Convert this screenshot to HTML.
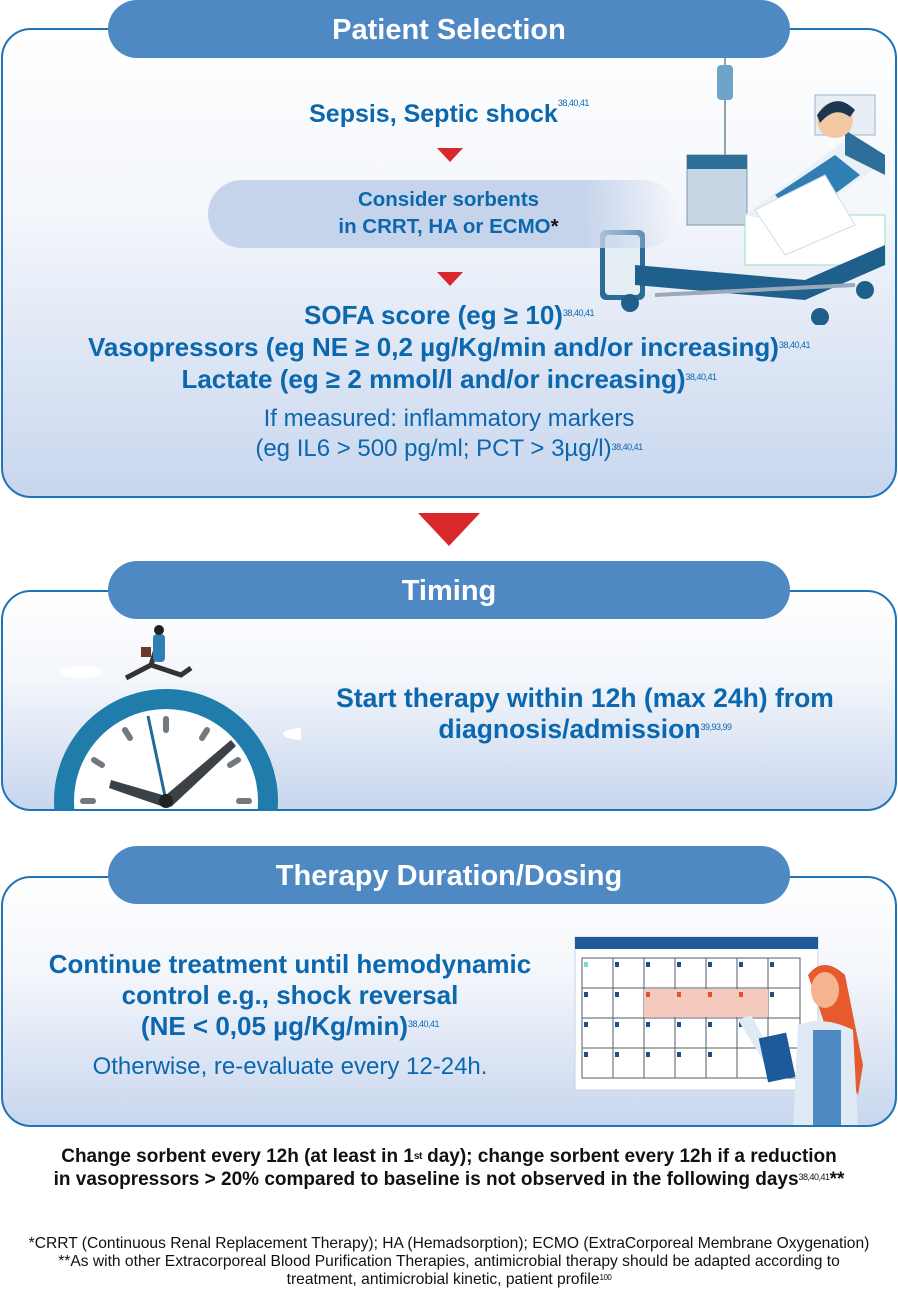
<!DOCTYPE html>
<html><head><meta charset="utf-8">
<style>
*{margin:0;padding:0;box-sizing:border-box}
body{width:898px;height:1292px;background:#fff;position:relative;overflow:hidden;font-family:"Liberation Sans",Arial,sans-serif}
.panel{position:absolute;left:1px;width:896px;border:2px solid #1f73b7;border-radius:30px;background:linear-gradient(#fff 0%,#f3f6fb 40%,#c8d6ee 100%);overflow:hidden}
.pill{position:absolute;left:108px;width:682px;height:58px;background:#4f89c4;border-radius:29px;color:#fff;font-weight:bold;font-size:29px;text-align:center;line-height:60px}
.t{position:absolute;white-space:nowrap;text-align:center;color:#0b67ae;font-weight:bold}
.t sup{font-size:9px;font-weight:normal;letter-spacing:-0.5px;vertical-align:top;position:relative;top:-2px}
.tri{position:absolute;width:0;height:0;border-left:13px solid transparent;border-right:13px solid transparent;border-top:14px solid #d8282c}
</style></head><body>

<!-- Panel 1 -->
<div class="panel" style="top:28px;height:470px">
  <svg style="position:absolute;left:592px;top:15px" width="300" height="280" viewBox="0 0 300 280">
    <rect x="220" y="50" width="60" height="40" fill="#e8eef5" stroke="#9fb4c9"/>
    <circle cx="235" cy="70" r="4" fill="#2c6a9a"/><circle cx="248" cy="70" r="4" fill="#2c6a9a"/>
    <line x1="130" y1="10" x2="130" y2="130" stroke="#8aa" stroke-width="2"/>
    <line x1="115" y1="10" x2="160" y2="10" stroke="#8aa" stroke-width="2"/>
    <rect x="122" y="20" width="16" height="35" rx="4" fill="#6fa3c9"/>
    <rect x="92" y="110" width="60" height="70" fill="#c7d6e4" stroke="#7f98ad"/>
    <rect x="92" y="110" width="60" height="14" fill="#2d6f99"/>
    <rect x="150" y="170" width="140" height="50" fill="#fff" stroke="#9db"/>
    <path d="M150 170 L250 95 L285 120 L200 180Z" fill="#eaf1f6"/>
    <path d="M250 85 L290 110 L290 130 L250 110Z" fill="#2d6f99"/>
    <circle cx="240" cy="75" r="18" fill="#f2c9a4"/>
    <path d="M222 70 Q240 45 260 65 L255 72 Q240 60 225 78Z" fill="#1d3550"/>
    <path d="M180 150 L240 110 L265 130 L205 175Z" fill="#2f7fb5"/>
    <path d="M160 165 L230 130 L260 180 L190 210Z" fill="#fff" stroke="#cfdde8"/>
    <rect x="5" y="185" width="45" height="70" rx="6" fill="#2a6b98"/>
    <rect x="10" y="190" width="35" height="60" rx="4" fill="#e6eef5"/>
    <path d="M40 220 L210 235 L290 200 L290 220 L210 255 L40 240Z" fill="#1f5f8c"/>
    <line x1="60" y1="250" x2="260" y2="240" stroke="#9ab" stroke-width="4"/>
    <circle cx="35" cy="258" r="9" fill="#1f5f8c"/><circle cx="225" cy="272" r="9" fill="#1f5f8c"/><circle cx="270" cy="245" r="9" fill="#1f5f8c"/>
  </svg>
  <div style="position:absolute;left:205px;top:150px;width:470px;height:68px;border-radius:34px;background:linear-gradient(90deg,#c6d4eb 80%,rgba(198,212,235,0))"></div>
</div>
<div class="pill" style="top:0">Patient Selection</div>

<div class="t" style="left:0;width:898px;top:100px;font-size:25px">Sepsis, Septic shock<sup>38,40,41</sup></div>
<div class="tri" style="left:437px;top:148px"></div>
<div class="t" style="left:236px;width:425px;top:186px;font-size:20.5px;line-height:27px">Consider sorbents<br>in CRRT, HA or ECMO<span style="color:#111">*</span></div>
<div class="tri" style="left:437px;top:272px"></div>
<div class="t" style="left:0;width:898px;top:299px;font-size:26px;line-height:32px">SOFA score (eg ≥ 10)<sup>38,40,41</sup><br>Vasopressors (eg NE ≥ 0,2 µg/Kg/min and/or increasing)<sup>38,40,41</sup><br>Lactate (eg ≥ 2 mmol/l and/or increasing)<sup>38,40,41</sup></div>
<div class="t" style="left:0;width:898px;top:404px;font-size:24px;line-height:30px;font-weight:normal">If measured: inflammatory markers<br>(eg IL6 &gt; 500 pg/ml; PCT &gt; 3µg/l)<sup>38,40,41</sup></div>

<div class="tri" style="left:418px;top:513px;border-left-width:31px;border-right-width:31px;border-top-width:33px"></div>

<!-- Panel 2 -->
<div class="panel" style="top:590px;height:221px">
  <svg style="position:absolute;left:28px;top:28px" width="270" height="193" viewBox="0 0 270 193">
    <ellipse cx="50" cy="52" rx="22" ry="6" fill="#fff"/>
    <ellipse cx="272" cy="114" rx="20" ry="6" fill="#fff"/>
    <circle cx="135" cy="181" r="112" fill="#1f7cab"/>
    <circle cx="135" cy="181" r="92" fill="#fff"/>
    <g stroke="#707880" stroke-width="6" stroke-linecap="round">
      <line x1="135" y1="99" x2="135" y2="110"/>
      <line x1="94" y1="110" x2="99" y2="118"/>
      <line x1="176" y1="110" x2="171" y2="118"/>
      <line x1="63" y1="140" x2="71" y2="145"/>
      <line x1="207" y1="140" x2="199" y2="145"/>
      <line x1="52" y1="181" x2="62" y2="181"/>
      <line x1="218" y1="181" x2="208" y2="181"/>
    </g>
    <line x1="117" y1="96" x2="135" y2="181" stroke="#1f6a9a" stroke-width="3"/>
    <path d="M135 175 L200 120 L205 126 L140 187Z" fill="#3c4148"/>
    <path d="M80 160 L135 176 L133 187 L78 168Z" fill="#3c4148"/>
    <circle cx="135" cy="181" r="7" fill="#222"/>
    <path d="M128 20 L120 45 L95 58 M120 45 L150 55 L160 48" stroke="#333" stroke-width="5" fill="none"/>
    <rect x="122" y="14" width="12" height="28" rx="4" fill="#2f7fb5"/>
    <circle cx="128" cy="10" r="5" fill="#222"/>
    <rect x="110" y="27" width="10" height="10" fill="#6b3a2a"/>
  </svg>
</div>
<div class="pill" style="top:561px">Timing</div>
<div class="t" style="left:280px;width:610px;top:683px;font-size:26.5px;line-height:31px">Start therapy within 12h (max 24h) from<br>diagnosis/admission<sup>39,93,99</sup></div>

<!-- Panel 3 -->
<div class="panel" style="top:876px;height:251px">
  <svg style="position:absolute;left:570px;top:57px" width="310" height="194" viewBox="0 0 310 194">
    <rect x="2" y="2" width="243" height="153" fill="#fff" stroke="#c7d2e0"/>
    <rect x="2" y="2" width="243" height="12" fill="#1d5a9a"/>
    <g stroke="#555e6a" stroke-width="1" fill="none">
      <rect x="9" y="23" width="218" height="120"/>
      <line x1="40" y1="23" x2="40" y2="143"/><line x1="71" y1="23" x2="71" y2="143"/><line x1="102" y1="23" x2="102" y2="143"/><line x1="133" y1="23" x2="133" y2="143"/><line x1="164" y1="23" x2="164" y2="143"/><line x1="195" y1="23" x2="195" y2="143"/>
      <line x1="9" y1="53" x2="227" y2="53"/><line x1="9" y1="83" x2="227" y2="83"/><line x1="9" y1="113" x2="227" y2="113"/>
    </g>
    <rect x="71" y="54" width="124" height="28" fill="#f5c9bd"/>
    <g fill="#1d4f8a">
      <rect x="42" y="27" width="4" height="5"/><rect x="73" y="27" width="4" height="5"/><rect x="104" y="27" width="4" height="5"/><rect x="135" y="27" width="4" height="5"/><rect x="166" y="27" width="4" height="5"/><rect x="197" y="27" width="4" height="5"/>
      <rect x="11" y="57" width="4" height="5"/><rect x="42" y="57" width="4" height="5"/><rect x="197" y="57" width="4" height="5"/>
      <rect x="11" y="87" width="4" height="5"/><rect x="42" y="87" width="4" height="5"/><rect x="73" y="87" width="4" height="5"/><rect x="104" y="87" width="4" height="5"/><rect x="135" y="87" width="4" height="5"/><rect x="166" y="87" width="4" height="5"/>
      <rect x="11" y="117" width="4" height="5"/><rect x="42" y="117" width="4" height="5"/><rect x="73" y="117" width="4" height="5"/><rect x="104" y="117" width="4" height="5"/><rect x="135" y="117" width="4" height="5"/>
    </g>
    <g fill="#e0532f"><rect x="73" y="57" width="4" height="5"/><rect x="104" y="57" width="4" height="5"/><rect x="135" y="57" width="4" height="5"/><rect x="166" y="57" width="4" height="5"/></g>
    <rect x="11" y="27" width="4" height="5" fill="#7dc"/>
    <path d="M235 40 Q250 20 272 40 L290 130 L285 160 L262 120Z" fill="#e65a2e"/>
    <ellipse cx="252" cy="55" rx="14" ry="18" fill="#f4b48e"/>
    <path d="M225 90 Q250 80 280 95 L285 194 L220 194Z" fill="#dfeaf5"/>
    <rect x="240" y="95" width="28" height="99" fill="#4f89c4"/>
    <path d="M165 85 L190 125 L200 120 L178 80Z" fill="#dfeaf5"/>
    <rect x="190" y="100" width="28" height="45" fill="#1d5a9a" transform="rotate(-12 204 122)"/>
  </svg>
</div>
<div class="pill" style="top:846px">Therapy Duration/Dosing</div>
<div class="t" style="left:0;width:580px;top:949px;font-size:26px;line-height:31px">Continue treatment until hemodynamic<br>control e.g., shock reversal<br>(NE &lt; 0,05 µg/Kg/min)<sup>38,40,41</sup></div>
<div class="t" style="left:0;width:580px;top:1053px;font-size:24px;font-weight:normal">Otherwise, re-evaluate every 12-24h.</div>

<div class="t" style="left:0;width:898px;top:1145px;font-size:19px;line-height:23px;color:#111">Change sorbent every 12h (at least in 1<sup style="font-size:10px;font-weight:bold;top:0">st</sup> day); change sorbent every 12h if a reduction<br>in vasopressors &gt; 20% compared to baseline is not observed in the following days<sup>38,40,41</sup>**</div>

<div class="t" style="left:0;width:898px;top:1235px;font-size:15.6px;line-height:18px;color:#111;font-weight:normal">*CRRT (Continuous Renal Replacement Therapy); HA (Hemadsorption); ECMO (ExtraCorporeal Membrane Oxygenation)<br>**As with other Extracorporeal Blood Purification Therapies, antimicrobial therapy should be adapted according to<br>treatment, antimicrobial kinetic, patient profile<sup style="font-size:8px">100</sup></div>

</body></html>
